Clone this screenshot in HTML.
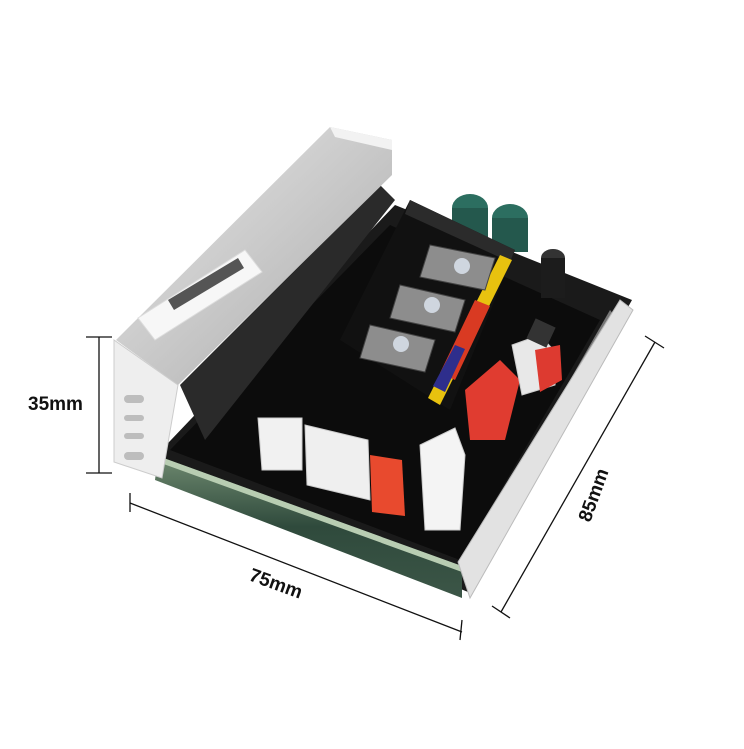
<!DOCTYPE html>
<html><head><meta charset="utf-8"><style>
html,body{margin:0;padding:0;background:#fff;width:744px;height:749px;overflow:hidden}
svg{display:block}
</style></head><body>
<svg width="744" height="749" viewBox="0 0 744 749" xmlns="http://www.w3.org/2000/svg">
<defs>
<linearGradient id="al" x1="0" y1="0" x2="1" y2="1">
<stop offset="0" stop-color="#e8e8e8"/><stop offset="0.5" stop-color="#c9c9c9"/><stop offset="1" stop-color="#a8a8a8"/>
</linearGradient>
<linearGradient id="gr" x1="0" y1="0" x2="0" y2="1">
<stop offset="0" stop-color="#6f8a70"/><stop offset="0.5" stop-color="#2f4a3c"/><stop offset="1" stop-color="#3c5647"/>
</linearGradient>
</defs>
<!-- black board -->
<polygon points="150,462 395,205 632,300 468,592" fill="#1a1a1a"/>
<polygon points="170,450 390,225 600,320 460,560" fill="#0c0c0c"/>
<!-- inner heatsink fins -->
<polygon points="180,385 380,185 395,200 205,440" fill="#2a2a2a"/>
<!-- gray inner frame on right -->
<polygon points="470,555 610,310 618,320 478,570" fill="#777"/>
<!-- green front strip -->
<polygon points="158,456 462,566 462,598 155,480" fill="url(#gr)"/>
<polygon points="158,456 462,566 462,572 158,462" fill="#b8cdb2"/>
<!-- right plate -->
<polygon points="458,562 620,300 633,310 470,598" fill="#e2e2e2" stroke="#bbb" stroke-width="1"/>
<!-- heatsink top -->
<polygon points="116,340 330,127 392,140 392,175 178,385" fill="url(#al)"/>
<polygon points="330,127 392,140 392,150 335,137" fill="#f2f2f2"/>
<!-- heatsink front face -->
<polygon points="114,340 178,385 162,478 114,462" fill="#eeeeee" stroke="#ccc"/>
<g fill="#bdbdbd"><rect x="124" y="395" width="20" height="8" rx="4"/><rect x="124" y="415" width="20" height="6" rx="3"/><rect x="124" y="433" width="20" height="6" rx="3"/><rect x="124" y="452" width="20" height="8" rx="4"/></g>
<!-- barcode label -->
<polygon points="138,318 245,250 262,272 155,340" fill="#f7f7f7" stroke="#ddd"/>
<polygon points="168,300 238,258 244,268 174,310" fill="#555"/>
<!-- capacitors -->
<ellipse cx="470" cy="208" rx="18" ry="14" fill="#2c6e60"/>
<rect x="452" y="208" width="36" height="30" fill="#24584d"/>
<ellipse cx="510" cy="218" rx="18" ry="14" fill="#2c6e60"/>
<rect x="492" y="218" width="36" height="34" fill="#24584d"/>
<ellipse cx="553" cy="258" rx="12" ry="9" fill="#333"/>
<rect x="541" y="258" width="24" height="40" fill="#1c1c1c"/>
<!-- terminal block -->
<polygon points="340,340 410,200 515,250 450,410" fill="#111"/>
<polygon points="410,200 515,250 510,262 405,214" fill="#2b2b2b"/>
<polygon points="500,255 512,260 440,405 428,398" fill="#e8c20f"/>
<polygon points="475,300 490,306 455,380 440,373" fill="#d93a22"/>
<polygon points="455,345 465,349 445,392 433,386" fill="#2e2e8c"/>
<g fill="#8d8d8d" stroke="#444">
<polygon points="430,245 495,258 485,290 420,277"/>
<polygon points="400,285 465,300 455,332 390,318"/>
<polygon points="370,325 435,340 425,372 360,358"/>
</g>
<g fill="#cfd6df"><circle cx="462" cy="266" r="8"/><circle cx="432" cy="305" r="8"/><circle cx="401" cy="344" r="8"/></g>
<!-- connectors -->
<polygon points="258,418 302,418 302,470 262,470" fill="#f1f1f1" stroke="#ccc"/>
<polygon points="305,425 368,440 370,500 307,485" fill="#efefef" stroke="#ccc"/>
<polygon points="370,455 402,460 405,516 372,512" fill="#e84a2e"/>
<polygon points="420,445 455,428 465,455 460,530 425,530" fill="#f4f4f4" stroke="#ccc"/>
<polygon points="465,390 500,360 520,380 505,440 470,440" fill="#e03c30"/>
<polygon points="512,345 540,335 558,355 555,385 522,395" fill="#e8e8e8" stroke="#ccc"/>
<polygon points="535,350 560,345 562,380 540,392" fill="#dd3a30"/>
<rect x="530" y="322" width="22" height="22" fill="#333" transform="rotate(25 541 333)"/>
<!-- dimension lines -->
<g stroke="#111" stroke-width="1.3" fill="none">
<line x1="99" y1="337" x2="99" y2="473"/>
<line x1="86" y1="337" x2="112" y2="337"/>
<line x1="86" y1="473" x2="112" y2="473"/>
<line x1="130" y1="503" x2="462" y2="632"/>
<line x1="130" y1="493" x2="130" y2="512"/>
<line x1="462" y1="620" x2="460" y2="640"/>
<line x1="501" y1="612" x2="655" y2="342"/>
<line x1="492" y1="606" x2="510" y2="618"/>
<line x1="645" y1="336" x2="664" y2="348"/>
</g>
<g font-family="Liberation Sans, sans-serif" font-weight="bold" font-size="19" fill="#111">
<text x="28" y="410">35mm</text>
<text x="0" y="0" transform="translate(248,580) rotate(20)">75mm</text>
<text x="0" y="0" transform="translate(590,523) rotate(-70)">85mm</text>
</g>
</svg>
</body></html>
